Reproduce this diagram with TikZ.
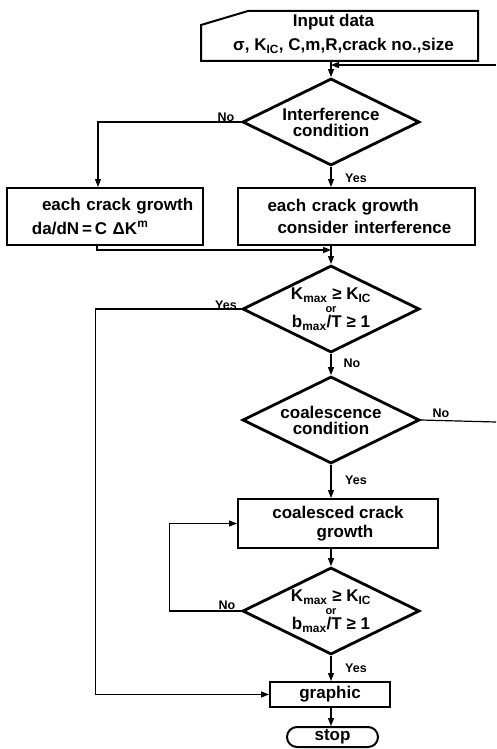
\documentclass[tikz,border=0pt]{standalone}
\usepackage{fontspec}
\setmainfont{Liberation Sans}
\usetikzlibrary{shapes.geometric,arrows.meta}

\newcommand{\flowfont}{\fontsize{17}{16}\selectfont\bfseries}
\newcommand{\tagfont}{\fontsize{12.5}{14}\selectfont\bfseries}
\newcommand{\orfont}{\fontsize{11}{11}\selectfont\bfseries}

\tikzset{
  procbox/.style={draw, line width=2pt, rectangle, inner sep=0pt, font=\flowfont},
  condbox/.style={draw, diamond, aspect=2, line width=2.8pt, inner sep=-12pt,
    minimum width=177pt, minimum height=87pt, align=center, font=\flowfont},
  flow/.style={line width=1.2pt, -{Triangle[length=8pt,width=6pt]}},
  plain/.style={line width=1.2pt},
  tag/.style={font=\tagfont, inner sep=0pt}
}

\begin{document}
\begin{tikzpicture}[x=1pt,y=1pt,yscale=-1,xscale=1]
\useasboundingbox (0,0) rectangle (496,749);

%Shape: Manual input [id:input]
\draw [line width=2pt] (201,61) -- (201,25) -- (248,11) -- (478,11) -- (478,61) -- cycle ;
\node [procbox, draw=none, minimum width=277pt, minimum height=50pt, align=center] (input) at (339.5,34)
  {\hspace*{-12pt}Input data\\[8pt] \hspace*{8pt}σ, K\textsubscript{IC}, C,m,R,crack no.,size};

%Shape: Diamond [id:d1]
\node [condbox] (d1) at (331,122) {Interference\\condition};
%Shape: Rectangle [id:grow1]
\node [procbox, minimum width=196pt, minimum height=57pt, text width=194pt, align=left] (grow1) at (105,216.5)
  {\hspace*{34pt}each crack growth\\[6pt] \hspace*{24pt}da/dN\,=\,C ΔK\textsuperscript{m}};
%Shape: Rectangle [id:grow2]
\node [procbox, minimum width=237pt, minimum height=57pt, text width=230pt, align=left] (grow2) at (356.5,216.5)
  {\hspace*{26pt}each crack growth\\[6pt] \hspace*{36pt}consider interference};
%Shape: Diamond [id:d2]
\node [condbox] (d2) at (331,309) {K\textsubscript{max} ≥ K\textsubscript{IC}\\[-3pt]{\orfont or}\\[-1pt]b\textsubscript{max}/T ≥ 1};
%Shape: Diamond [id:d3]
\node [condbox] (d3) at (331,420) {coalescence\\condition};
%Shape: Rectangle [id:coal]
\node [procbox, minimum width=200pt, minimum height=49pt, align=center] (coal) at (338,523.5)
  {coalesced crack\\[3pt] \hspace*{14pt}growth};
%Shape: Diamond [id:d4]
\node [condbox] (d4) at (331,611) {K\textsubscript{max} ≥ K\textsubscript{IC}\\[-3pt]{\orfont or}\\[-1pt]b\textsubscript{max}/T ≥ 1};
%Shape: Rectangle [id:graphic]
\node [procbox, minimum width=120pt, minimum height=25pt] (graphic) at (330,694.5) {graphic};
%Shape: Rounded Rect [id:stop]
\node [procbox, rounded corners=10pt, minimum width=91pt, minimum height=20pt] (stop) at (332.5,737) {stop};

%Straight Lines [id:main]
\draw [flow] (d1.north |- input.south) -- (d1.north) ;
\coordinate (loopin) at (496,65);
\draw [flow] (loopin) -- (loopin -| d1.north) ;
\draw [flow] (d1.west) -| ([xshift=-7pt]grow1.north) ;
\draw [flow] (d1.south) -- (d1.south |- grow2.north) ;
\coordinate (merge) at (331,250);
\draw [flow] ([xshift=-8pt]grow1.south) |- (merge) ;
\draw [flow] (d1.south |- grow2.south) -- (d2.north) ;
\draw [flow] (d2.west) -- ++(-146,0) |- (graphic.west) ;
\draw [flow] (d2.south) -- (d3.north) ;
\coordinate (loopout) at (496,422);
\draw [plain] (d3.east) -- (loopout) ;
\draw [flow] (d3.south) -- (d3.south |- coal.north) ;
\draw [flow] (d3.south |- coal.south) -- (d4.north) ;
\draw [flow] (d4.west) -- ++(-72,0) |- (coal.west) ;
\draw [flow] (d4.south) -- (d4.south |- graphic.north) ;
\draw [flow] (d4.south |- graphic.south) -- (d4.south |- stop.north) ;

%Labels
\node [tag] (no1) at (226,117) {No};
\node [tag] (yes1) at (356,178) {Yes};
\node [tag] (yes2) at (226,305) {Yes};
\node [tag] (no2) at (352,363) {No};
\node [tag] (no3) at (441,413) {No};
\node [tag] (yes3) at (356,480) {Yes};
\node [tag] (no4) at (227,605) {No};
\node [tag] (yes4) at (356,668) {Yes};

\end{tikzpicture}
\end{document}
